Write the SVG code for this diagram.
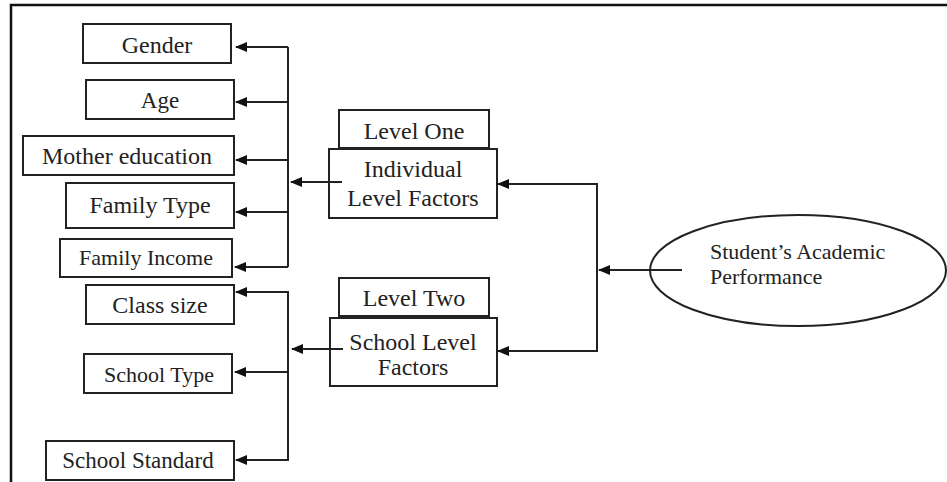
<svg xmlns="http://www.w3.org/2000/svg" width="947" height="482" viewBox="0 0 947 482">
<style>
.box{fill:#fff;stroke:#222;stroke-width:2}
.t{font-family:"Liberation Serif","Times New Roman",serif;font-size:24px;fill:#222;text-anchor:middle}
.c{fill:none;stroke:#222;stroke-width:2}
.a{fill:none;stroke:#222;stroke-width:2;marker-end:url(#ah)}
</style>
<defs>
<marker id="ah" markerUnits="userSpaceOnUse" markerWidth="12" markerHeight="10" refX="11" refY="5" orient="auto">
<path d="M0,0 L12,5 L0,10 Z" fill="#111"/>
</marker>
</defs>
<rect width="947" height="482" fill="#fff"/>
<path d="M11,482 V5 H947" fill="none" stroke="#111" stroke-width="2.5"/>
<g id="gender"><rect class="box" x="83" y="24" width="148" height="39"/><text class="t" x="157" y="53">Gender</text></g>
<g id="age"><rect class="box" x="86" y="80" width="148" height="39"/><text class="t" x="160" y="108" style="font-size:23px">Age</text></g>
<g id="mother"><rect class="box" x="23" y="136" width="211" height="39"/><text class="t" x="127" y="164">Mother education</text></g>
<g id="familytype"><rect class="box" x="66" y="183" width="168" height="45"/><text class="t" x="150" y="213">Family Type</text></g>
<g id="familyincome"><rect class="box" x="60" y="239" width="172" height="38"/><text class="t" x="146" y="265" style="font-size:22px">Family Income</text></g>
<g id="classsize"><rect class="box" x="86" y="285" width="148" height="39"/><text class="t" x="160" y="313">Class size</text></g>
<g id="schooltype"><rect class="box" x="84" y="354" width="148" height="39"/><text class="t" x="159" y="382" style="font-size:22px">School Type</text></g>
<g id="schoolstandard"><rect class="box" x="46" y="441" width="188" height="39"/><text class="t" x="138" y="468" style="font-size:23px">School Standard</text></g>
<g id="levelone"><rect class="box" x="339" y="110" width="150" height="38"/><text class="t" x="414" y="139">Level One</text></g>
<g id="individual"><rect class="box" x="329" y="149" width="168" height="69"/><text class="t" x="413" y="177">Individual</text><text class="t" x="413" y="206">Level Factors</text></g>
<g id="leveltwo"><rect class="box" x="339" y="278" width="150" height="38"/><text class="t" x="414" y="306">Level Two</text></g>
<g id="school"><rect class="box" x="330" y="318" width="167" height="68"/><text class="t" x="413" y="350">School Level</text><text class="t" x="413" y="375">Factors</text></g>
<g id="performance"><ellipse cx="798" cy="270.5" rx="148" ry="55.5" fill="#fff" stroke="#222" stroke-width="2"/><text class="t" x="710" y="259" style="text-anchor:start;font-size:22px">Student’s Academic</text><text class="t" x="710" y="284" style="text-anchor:start;font-size:22px">Performance</text></g>
<g id="connectors">
<path class="c" d="M288,47 V267"/>
<path class="a" d="M288,47 H236"/>
<path class="a" d="M288,102 H236"/>
<path class="a" d="M288,160 H236"/>
<path class="a" d="M288,212 H236"/>
<path class="a" d="M288,267 H235"/>
<path class="a" d="M342,182 H291"/>
<path class="c" d="M288,292 V461"/>
<path class="a" d="M289,292 H236"/>
<path class="a" d="M288,372 H235"/>
<path class="a" d="M288,460 H236"/>
<path class="a" d="M343,349 H292"/>
<path class="c" d="M498,184 H597 V351 H498"/>
<path class="a" d="M597,184 H498"/>
<path class="a" d="M597,351 H498"/>
<path class="a" d="M682,270 H599"/>
</g>
</svg>
